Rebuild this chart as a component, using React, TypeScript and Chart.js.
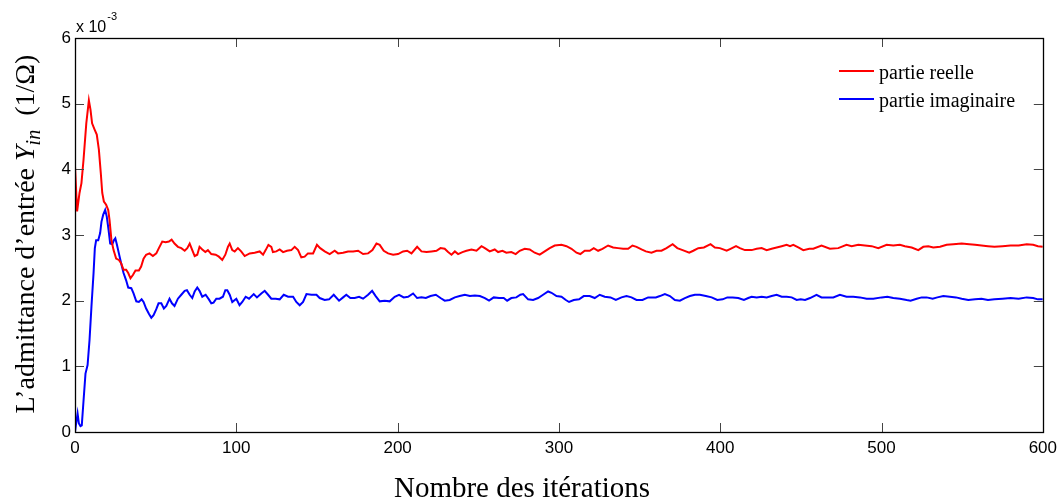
import React, { useEffect, useRef } from "react";
import { Chart, registerables } from "chart.js";

Chart.register(...registerables);

// ---- data (values in units of 1e-3 S) ----
const xTicks = [0, 100, 200, 300, 400, 500, 600];
const yTicks = [0, 1, 2, 3, 4, 5, 6];
const seriesLabels = ["partie reelle", "partie imaginaire"];
const seriesColors = ["#ff0000", "#0000ff"];
const xTitle = "Nombre des itérations";
const yTitleMain = "L’admittance d’entrée ";
const yTitleSymbol = "Y";
const yTitleSub = "in";
const yTitleUnit = "  (1/Ω)";
const exponentBase = "x 10";
const exponentPower = "-3";

const realIter = [0, 1.3, 2.8, 4, 5.3, 7, 8.6, 9.6, 10.6, 12.1, 13.5, 14.8, 16, 16.9, 17.9, 19.3, 20.6, 21.4, 22.6, 23.9, 25.5, 27.2, 28.6, 30.1, 31.7, 33, 34.4, 35.9, 37.5, 39.6, 41, 42.5, 44.1, 46.2, 48.3, 50.4, 52, 54.1, 56.2, 58.2, 59.9, 61.7, 63.8, 65.9, 68, 69.6, 71.1, 72.7, 74.2, 75.8, 77.2, 78.9, 80.8, 82.4, 84.5, 87.2, 89.2, 91.3, 93.2, 94.8, 95.9, 97.5, 99, 101, 103, 105.2, 108.3, 111.4, 114.5, 116.6, 118.2, 119.9, 121.7, 122.7, 124.8, 126.9, 129, 131.4, 134.1, 136.2, 138.3, 140.3, 142.4, 144.4, 147.6, 150, 152, 154.8, 157.9, 161, 163.1, 166.2, 169.3, 172.4, 175.5, 178.6, 181.7, 184.4, 186.9, 188.9, 191.4, 194.1, 197.2, 200.3, 203.4, 205.9, 208.6, 212.1, 214.8, 217.9, 221, 224.1, 226.6, 229.2, 231.3, 233.4, 235.5, 237.5, 240.2, 242.7, 245.8, 248.9, 252, 254.1, 257.1, 260.2, 262.3, 265, 267.4, 270.5, 273.2, 275.7, 278.8, 281.9, 285, 288.1, 291.2, 294.3, 297.4, 301.6, 304.7, 307.8, 310.9, 313.3, 316, 319.1, 321.6, 324.3, 327, 330.5, 333.6, 336.7, 339.8, 342.9, 345.6, 348.1, 351.2, 353.9, 357.4, 360.5, 363.6, 366.7, 370.5, 373.4, 376.7, 380.8, 383.3, 386.4, 389.9, 394, 396.7, 399.8, 404, 406.4, 409.8, 412.2, 415.3, 419.5, 422.6, 425.7, 428.8, 431.9, 435, 438.1, 441.2, 443.3, 445.3, 448.4, 451.5, 455.2, 457.7, 462.8, 468, 473.2, 478.3, 481.5, 485.6, 489.7, 493.9, 498, 503.2, 507.3, 511.4, 514.5, 518.7, 522.8, 525.9, 529, 532.1, 536.3, 540.4, 544.5, 549.7, 554.4, 558, 562, 566, 570, 575, 580, 585, 590, 594, 597, 600];
const realVal = [4.05, 3.36, 3.64, 3.79, 4.15, 4.7, 5.05, 4.91, 4.7, 4.61, 4.53, 4.3, 3.94, 3.64, 3.51, 3.46, 3.38, 3.23, 2.92, 2.77, 2.64, 2.62, 2.57, 2.47, 2.47, 2.42, 2.34, 2.39, 2.46, 2.46, 2.52, 2.64, 2.7, 2.72, 2.68, 2.72, 2.8, 2.9, 2.89, 2.9, 2.93, 2.87, 2.82, 2.8, 2.76, 2.8, 2.87, 2.77, 2.68, 2.7, 2.82, 2.78, 2.74, 2.77, 2.71, 2.7, 2.67, 2.62, 2.7, 2.82, 2.87, 2.77, 2.75, 2.8, 2.75, 2.68, 2.72, 2.73, 2.75, 2.7, 2.77, 2.85, 2.82, 2.74, 2.75, 2.78, 2.74, 2.76, 2.77, 2.82, 2.77, 2.66, 2.67, 2.72, 2.72, 2.85, 2.8, 2.75, 2.71, 2.76, 2.72, 2.73, 2.75, 2.75, 2.76, 2.71, 2.72, 2.77, 2.87, 2.85, 2.76, 2.72, 2.7, 2.71, 2.75, 2.76, 2.72, 2.82, 2.75, 2.74, 2.75, 2.76, 2.8, 2.79, 2.74, 2.7, 2.75, 2.71, 2.74, 2.76, 2.78, 2.76, 2.83, 2.8, 2.75, 2.78, 2.74, 2.76, 2.73, 2.74, 2.71, 2.76, 2.79, 2.78, 2.73, 2.7, 2.75, 2.8, 2.84, 2.85, 2.83, 2.79, 2.73, 2.71, 2.76, 2.76, 2.8, 2.76, 2.79, 2.84, 2.81, 2.8, 2.79, 2.79, 2.84, 2.82, 2.78, 2.75, 2.73, 2.76, 2.76, 2.8, 2.86, 2.8, 2.77, 2.73, 2.76, 2.8, 2.81, 2.86, 2.81, 2.8, 2.76, 2.79, 2.83, 2.8, 2.77, 2.77, 2.79, 2.8, 2.77, 2.79, 2.81, 2.83, 2.85, 2.83, 2.85, 2.81, 2.77, 2.79, 2.79, 2.84, 2.79, 2.8, 2.85, 2.83, 2.85, 2.84, 2.83, 2.8, 2.85, 2.84, 2.85, 2.83, 2.81, 2.77, 2.82, 2.83, 2.81, 2.82, 2.85, 2.86, 2.87, 2.86, 2.85, 2.84, 2.83, 2.82, 2.83, 2.84, 2.84, 2.86, 2.85, 2.83, 2.82];

const imagIter = [0, 0.7, 1.6, 2.4, 3.4, 4.2, 5.3, 6.5, 7.8, 9, 10.2, 11.5, 12.3, 13.1, 14.4, 15.6, 16.4, 17.5, 18.7, 19.7, 20.8, 21.8, 23.1, 24.1, 25, 26, 27.2, 28.6, 30.1, 31.7, 33, 34.9, 36.3, 38, 39.6, 41.3, 42.5, 44.1, 45.8, 47.3, 48.7, 50.4, 51.8, 53.5, 55.1, 56.6, 58.6, 60.1, 61.7, 63.8, 65.9, 68, 69.4, 71.1, 72.7, 74.2, 75.8, 77.2, 78.9, 81, 83, 84.5, 85.9, 87.6, 89.6, 91.7, 93.2, 94.4, 95.9, 97.5, 100, 102, 103.7, 105.8, 107.9, 110.8, 112.8, 115.5, 117.6, 119.7, 121.7, 124.4, 126.9, 129.4, 132.1, 135.2, 137.2, 139.3, 141.4, 143.5, 146.6, 149.7, 151.7, 154.8, 157.5, 160.4, 163.7, 166.2, 168.2, 170.7, 173.4, 176.1, 178.6, 181.7, 184.2, 186.4, 188.9, 192, 195.1, 198.2, 200.9, 203.8, 206.5, 209.6, 212.1, 214.8, 217.5, 220.4, 223.7, 226.6, 229.2, 232.3, 235.5, 238.5, 241.7, 244.8, 247.9, 251, 254.1, 256.7, 259.6, 262.9, 265.8, 267.9, 270.5, 273.6, 276.1, 277.8, 280.9, 284, 287.1, 290.2, 293.3, 295.4, 298.5, 301.6, 304.3, 306.3, 309.2, 312.5, 315.4, 319.1, 322.2, 325.3, 328.4, 332, 335.3, 338.8, 341.9, 345, 348.1, 351.8, 355.3, 358, 360.1, 362.6, 365.7, 368.8, 371.9, 375, 378.1, 381.2, 384.3, 387.4, 391.1, 394.7, 398.2, 401.5, 404.4, 407.7, 411.2, 414.7, 417.4, 419.5, 422.6, 425.7, 428.8, 431.9, 435, 438.1, 441.2, 444.3, 447.4, 449.9, 452.6, 455.7, 459.7, 462.8, 467, 470.1, 474.2, 478.3, 482.5, 486.6, 490.8, 494.9, 500.1, 503.6, 507.3, 511.4, 515.6, 518, 521.8, 524.9, 528, 531.7, 534.6, 538.3, 542.4, 546.2, 549.7, 553.8, 558, 562, 566, 570, 575, 580, 585, 590, 594, 597, 600];
const imagVal = [0, 0.13, 0.28, 0.13, 0.09, 0.1, 0.48, 0.89, 1.02, 1.4, 1.91, 2.42, 2.8, 2.92, 2.92, 3.03, 3.2, 3.31, 3.38, 3.28, 3.08, 2.87, 2.86, 2.92, 2.95, 2.85, 2.72, 2.57, 2.42, 2.31, 2.2, 2.19, 2.11, 1.99, 1.98, 2.02, 1.98, 1.88, 1.8, 1.74, 1.78, 1.87, 1.96, 1.96, 1.88, 1.92, 2.03, 1.96, 1.92, 2.03, 2.09, 2.15, 2.16, 2.09, 2.04, 2.14, 2.2, 2.15, 2.06, 2.09, 2.02, 1.96, 1.97, 2.03, 2.03, 2.06, 2.16, 2.16, 2.09, 1.98, 2.03, 1.93, 1.98, 2.06, 2.03, 2.1, 2.05, 2.11, 2.15, 2.09, 2.03, 2.03, 2.02, 2.09, 2.06, 2.06, 1.98, 1.93, 1.98, 2.1, 2.09, 2.09, 2.04, 2.01, 2.02, 2.09, 2.0, 2.05, 2.09, 2.04, 2.04, 2.06, 2.03, 2.09, 2.15, 2.07, 1.99, 2.0, 1.99, 2.06, 2.09, 2.05, 2.06, 2.11, 2.04, 2.05, 2.04, 2.07, 2.09, 2.04, 2.0, 2.01, 2.05, 2.07, 2.09, 2.07, 2.08, 2.07, 2.04, 2.0, 2.05, 2.04, 2.04, 2.0, 2.04, 2.05, 2.09, 2.1, 2.02, 2.01, 2.04, 2.09, 2.14, 2.12, 2.07, 2.06, 2.01, 1.98, 2.01, 2.02, 2.07, 2.07, 2.04, 2.09, 2.06, 2.05, 2.01, 2.05, 2.07, 2.05, 2.01, 2.01, 2.05, 2.05, 2.05, 2.07, 2.1, 2.07, 2.01, 2.0, 2.04, 2.07, 2.09, 2.09, 2.07, 2.05, 2.01, 2.02, 2.05, 2.05, 2.04, 2.01, 2.04, 2.06, 2.05, 2.06, 2.05, 2.07, 2.09, 2.06, 2.06, 2.05, 2.01, 2.02, 2.01, 2.04, 2.09, 2.05, 2.05, 2.05, 2.09, 2.06, 2.06, 2.05, 2.03, 2.03, 2.05, 2.06, 2.04, 2.03, 2.01, 2.0, 2.03, 2.05, 2.05, 2.03, 2.05, 2.07, 2.06, 2.05, 2.03, 2.01, 2.02, 2.03, 2.01, 2.02, 2.03, 2.04, 2.03, 2.05, 2.04, 2.02, 2.02];

const SERIF = "'Liberation Serif', 'Times New Roman', serif";
const SANS = "'Liberation Sans', Arial, sans-serif";

const decorPlugin = {
  id: "decor",
  afterDraw(chart: any) {
    const ctx = chart.ctx as CanvasRenderingContext2D;
    const { left, right, top, bottom } = chart.chartArea;
    const xs = chart.scales.x;
    const ys = chart.scales.y;
    ctx.save();

    // inward ticks
    ctx.strokeStyle = "#444";
    ctx.lineWidth = 1;
    const tl = 9;
    xTicks.forEach((v) => {
      const px = Math.round(xs.getPixelForValue(v)) + 0.5;
      ctx.beginPath();
      ctx.moveTo(px, bottom);
      ctx.lineTo(px, bottom - tl);
      ctx.moveTo(px, top);
      ctx.lineTo(px, top + tl);
      ctx.stroke();
    });
    yTicks.forEach((v) => {
      const py = Math.round(ys.getPixelForValue(v)) + 0.5;
      ctx.beginPath();
      ctx.moveTo(left, py);
      ctx.lineTo(left + tl, py);
      ctx.moveTo(right, py);
      ctx.lineTo(right - tl, py);
      ctx.stroke();
    });

    // frame
    ctx.strokeStyle = "#000";
    ctx.lineWidth = 1.3;
    ctx.strokeRect(Math.round(left) + 0.5, Math.round(top) + 0.5, Math.round(right - left), Math.round(bottom - top));

    // exponent label
    ctx.fillStyle = "#000";
    ctx.textBaseline = "alphabetic";
    ctx.textAlign = "left";
    ctx.font = `16px ${SANS}`;
    ctx.fillText(exponentBase, left + 1, top - 6);
    const bw = ctx.measureText(exponentBase).width;
    ctx.font = `11px ${SANS}`;
    ctx.fillText(exponentPower, left + 2 + bw, top - 18);

    // legend
    const lx0 = 839, lx1 = 874;
    const rows = [71, 99];
    seriesLabels.forEach((lab, i) => {
      ctx.strokeStyle = seriesColors[i];
      ctx.lineWidth = 2;
      ctx.beginPath();
      ctx.moveTo(lx0, rows[i]);
      ctx.lineTo(lx1, rows[i]);
      ctx.stroke();
      ctx.fillStyle = "#000";
      ctx.font = `20px ${SERIF}`;
      ctx.fillText(lab, 879, rows[i] + 8);
    });

    // x title
    ctx.font = `29px ${SERIF}`;
    ctx.textAlign = "center";
    ctx.fillText(xTitle, 522, 497);

    // y title (rotated, with subscript)
    ctx.save();
    ctx.translate(34, (top + bottom) / 2 - 1);
    ctx.rotate(-Math.PI / 2);
    ctx.textAlign = "left";
    const fMain = `28px ${SERIF}`;
    const fIt = `italic 28px ${SERIF}`;
    const fSub = `italic 20px ${SERIF}`;
    ctx.font = fMain;
    const w1 = ctx.measureText(yTitleMain).width;
    const w4 = ctx.measureText(yTitleUnit).width;
    ctx.font = fIt;
    const w2 = ctx.measureText(yTitleSymbol).width;
    ctx.font = fSub;
    const w3 = ctx.measureText(yTitleSub).width;
    const total = w1 + w2 + w3 + w4;
    let x = -total / 2;
    ctx.font = fMain;
    ctx.fillText(yTitleMain, x, 0);
    x += w1;
    ctx.font = fIt;
    ctx.fillText(yTitleSymbol, x, 0);
    x += w2;
    ctx.font = fSub;
    ctx.fillText(yTitleSub, x, 6);
    x += w3;
    ctx.font = fMain;
    ctx.fillText(yTitleUnit, x, 0);
    ctx.restore();

    ctx.restore();
  },
};

export default function App() {
  const ref = useRef<HTMLCanvasElement>(null);
  useEffect(() => {
    document.body.style.margin = "0";
    const chart = new Chart(ref.current!, {
      type: "line",
      data: {
        datasets: [
          {
            label: seriesLabels[0],
            data: realIter.map((x, i) => ({ x, y: realVal[i] })),
            borderColor: seriesColors[0],
            backgroundColor: seriesColors[0],
            borderWidth: 2,
            pointRadius: 0,
            tension: 0,
            fill: false,
          },
          {
            label: seriesLabels[1],
            data: imagIter.map((x, i) => ({ x, y: imagVal[i] })),
            borderColor: seriesColors[1],
            backgroundColor: seriesColors[1],
            borderWidth: 2,
            pointRadius: 0,
            tension: 0,
            fill: false,
          },
        ],
      },
      options: {
        responsive: false,
        animation: false,
        events: [],
        layout: { padding: { top: 38, right: 20, left: 0, bottom: 0 } },
        plugins: { legend: { display: false }, tooltip: { enabled: false } },
        scales: {
          x: {
            type: "linear",
            min: 0,
            max: 600,
            afterBuildTicks: (s: any) => {
              s.ticks = xTicks.map((v) => ({ value: v }));
            },
            grid: { display: false, drawTicks: false },
            border: { display: false },
            ticks: {
              padding: 6,
              color: "#000",
              maxRotation: 0,
              autoSkip: false,
              font: { family: SANS, size: 17 },
            },
            afterFit: (s: any) => {
              s.height = 70;
            },
          },
          y: {
            type: "linear",
            min: 0,
            max: 6,
            afterBuildTicks: (s: any) => {
              s.ticks = yTicks.map((v) => ({ value: v }));
            },
            grid: { display: false, drawTicks: false },
            border: { display: false },
            ticks: {
              padding: 4,
              color: "#000",
              autoSkip: false,
              font: { family: SANS, size: 17 },
            },
            afterFit: (s: any) => {
              s.width = 75;
            },
          },
        },
      },
      plugins: [decorPlugin],
    });
    return () => chart.destroy();
  }, []);
  return <canvas ref={ref} width={1063} height={502} style={{ display: "block" }} />;
}
